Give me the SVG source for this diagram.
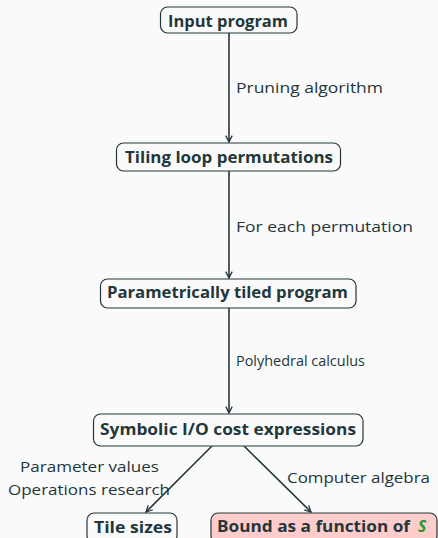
<svg xmlns="http://www.w3.org/2000/svg" width="438" height="538" viewBox="0 0 438 538">
<defs>
<style>
.bg{fill:#fafafa}
.box{fill:#fafafa;stroke:#23373b;stroke-width:1.2}
.hot{fill:#ffcccc}
.t{font-family:"Open Sans","DejaVu Sans",sans-serif;fill:#23373b}
.b{font-weight:bold;font-size:15.5px}
.n{font-size:15px}
.e{stroke:#23373b;stroke-width:1.6;fill:none}
</style>
<marker id="ah" viewBox="0 0 10 10" refX="9" refY="5" markerWidth="8" markerHeight="8" markerUnits="userSpaceOnUse" orient="auto">
<path d="M1,1 L9,5 L1,9" fill="none" stroke="#23373b" stroke-width="1.6"/>
</marker>
</defs>
<rect class="bg" x="0" y="0" width="438" height="538"/>
<g id="connectors">
<line class="e" x1="229" y1="32" x2="229" y2="142" marker-end="url(#ah)"/>
<line class="e" x1="229" y1="171" x2="229" y2="278" marker-end="url(#ah)"/>
<line class="e" x1="229" y1="308" x2="229" y2="413" marker-end="url(#ah)"/>
<line class="e" x1="212" y1="446" x2="146" y2="512" marker-end="url(#ah)"/>
<line class="e" x1="244" y1="446" x2="311" y2="512" marker-end="url(#ah)"/>
<text class="t n" x="236" y="93" textLength="147" lengthAdjust="spacingAndGlyphs">Pruning algorithm</text>
<text class="t n" x="236" y="232" textLength="177" lengthAdjust="spacingAndGlyphs">For each permutation</text>
<text class="t n" x="236" y="366" textLength="129" lengthAdjust="spacingAndGlyphs">Polyhedral calculus</text>
<text class="t n" x="20" y="472" textLength="139" lengthAdjust="spacingAndGlyphs">Parameter values</text>
<text class="t n" x="8" y="495" textLength="162" lengthAdjust="spacingAndGlyphs">Operations research</text>
<text class="t n" x="287" y="483" textLength="143" lengthAdjust="spacingAndGlyphs">Computer algebra</text>
</g>
<g id="input">
<rect class="box" x="160.5" y="7" width="136.5" height="26" rx="7"/>
<text class="t b" x="168" y="27" textLength="120" lengthAdjust="spacingAndGlyphs">Input program</text>
</g>
<g id="tiling">
<rect class="box" x="116.5" y="143" width="224" height="28" rx="7"/>
<text class="t b" x="125" y="163" textLength="208" lengthAdjust="spacingAndGlyphs">Tiling loop permutations</text>
</g>
<g id="param">
<rect class="box" x="100.5" y="279" width="255.5" height="29" rx="7"/>
<text class="t b" x="107" y="298" textLength="241" lengthAdjust="spacingAndGlyphs">Parametrically tiled program</text>
</g>
<g id="symbolic">
<rect class="box" x="93.5" y="414" width="269.5" height="32" rx="7"/>
<text class="t b" x="100" y="435" textLength="256" lengthAdjust="spacingAndGlyphs">Symbolic I/O cost expressions</text>
</g>
<g id="tiles">
<rect class="box" x="87" y="513" width="90" height="30" rx="7"/>
<text class="t b" x="94" y="533" textLength="78" lengthAdjust="spacingAndGlyphs">Tile sizes</text>
</g>
<g id="bound">
<rect class="box hot" x="211" y="513" width="226" height="30" rx="7"/>
<text class="t b" x="217" y="532" textLength="193" lengthAdjust="spacingAndGlyphs">Bound as a function of</text>
<text class="t b" x="418" y="532" font-style="italic" style="fill:#1e9a2e">S</text>
</g>
</svg>
